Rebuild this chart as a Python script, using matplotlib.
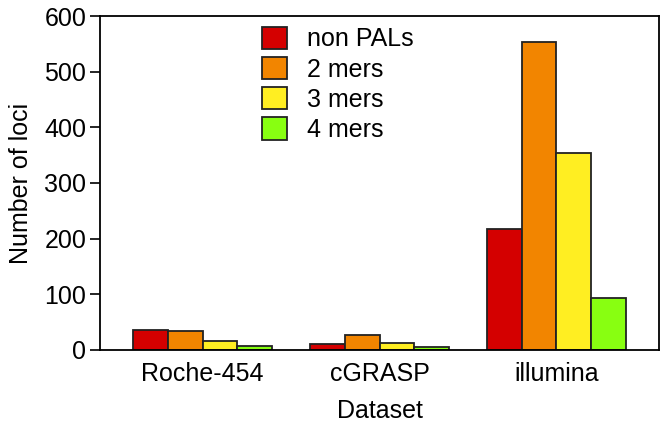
import numpy as np
import matplotlib.pyplot as plt

plt.rcParams['font.family'] = ['Liberation Sans', 'DejaVu Sans']

datasets = ['Roche-454', 'cGRASP', 'illumina']
series = ['non PALs', '2 mers', '3 mers', '4 mers']
non_pals = [36, 10, 217]
mers2 = [34, 26, 553]
mers3 = [15, 12, 354]
mers4 = [6, 5, 94]
colors = ['#D40000', '#F28500', '#FFEE22', '#88FF11']

values = [non_pals, mers2, mers3, mers4]

fig = plt.figure(figsize=(6.67, 4.24), dpi=100)
ax = fig.add_axes([0.15, 0.175, 0.838, 0.787])

x = np.arange(1, len(datasets) + 1)
w = 0.196
for i, (name, vals) in enumerate(zip(series, values)):
    ax.bar(x + (i - 1.5) * w, vals, w, color=colors[i], edgecolor='#222222',
           linewidth=1.3, label=name)

fs = 18
ax.set_xlim(0.42, 3.58)
ax.set_ylim(0, 600)
ax.set_xticks(x)
ax.set_xticklabels(datasets)
ax.set_yticks(range(0, 601, 100))
ax.tick_params(axis='both', labelsize=fs, direction='out', width=1.2)
ax.tick_params(axis='y', length=7, pad=3)
ax.tick_params(axis='x', length=0, pad=9)
for s in ax.spines.values():
    s.set_linewidth(1.3)

ax.set_xlabel('Dataset', fontsize=fs, labelpad=9)
ax.set_ylabel('Number of loci', fontsize=fs, labelpad=8)

ax.legend(loc='upper center', bbox_to_anchor=(0.425, 1.036), frameon=False,
          fontsize=fs, handlelength=1.0, handleheight=1.0,
          labelspacing=0.22, handletextpad=0.8)

fig.savefig('out.png', dpi=100)
